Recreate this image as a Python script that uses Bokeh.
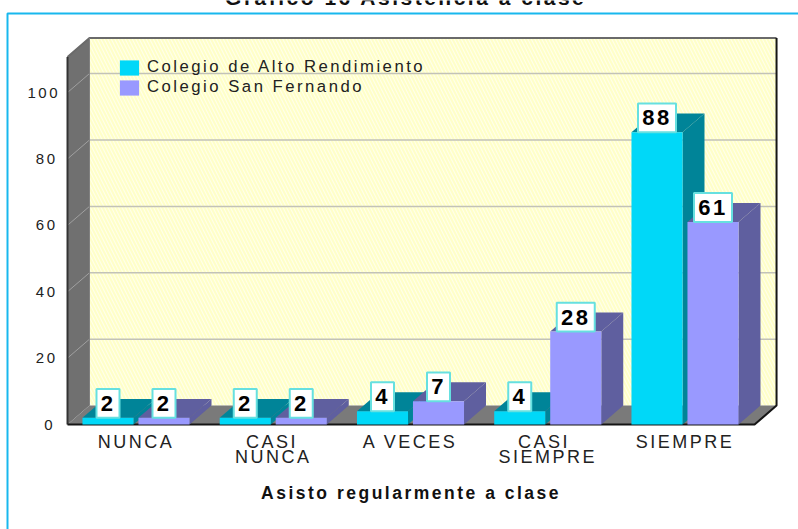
from bokeh.plotting import figure
from bokeh.models import FixedTicker, Legend, LegendItem
from bokeh.core.properties import value
from bokeh.embed import file_html
from bokeh.resources import INLINE

title_text = "Gráfico 16 Asistencia a clase"
x_title = "Asisto regularmente a clase"
categories = ["NUNCA", "CASI\nNUNCA", "A VECES", "CASI\nSIEMPRE", "SIEMPRE"]
series_names = ["Colegio de Alto Rendimiento", "Colegio San Fernando"]
alto = [2, 2, 4, 4, 88]
san_fernando = [2, 2, 7, 28, 61]
y_ticks = [0, 20, 40, 60, 80, 100]

CYAN, CYAN_D = "#00d8f8", "#008498"
PURP, PURP_D = "#9999ff", "#5f5f9f"
FONT = "Liberation Sans"
LS = 2.5  # letter spacing in px; texts are anchored as if unspaced, so centred ones get half of it back

# one category = 137.25 px, one value unit = 3.32 px; the frame fills the canvas
UX, UY = 137.25, 3.32
RX = (-135.5 / UX, (798 - 135.5) / UX)
RY = (-(529 - 424) / UY, 424 / UY)
X0, X1 = -0.499, 4.667
Y1 = 116.4
DX, DY = 0.16, 5.7
BW, GAP = 0.372, 0.036


def back(text):
    """Horizontal shift, in category units, that re-centres a letter-spaced text."""
    return max(len(line) for line in text.split("\n")) * LS / 2 / UX


p = figure(width=798, height=529, x_range=RX, y_range=RY,
           min_border=0, output_backend="svg", toolbar_location=None,
           margin=0, styles={"letter-spacing": f"{LS}px"})
p.outline_line_color = None
p.grid.visible = False

# panel border
BX, BY = (7 - 135.5) / UX, (424 - 13) / UY
p.line([BX, BX, RX[1] + 1], [RY[0] - 1, BY, BY], line_color="#18b8ee", line_width=2)

# walls and floor
p.patch([X0 + DX, X1, X1, X0 + DX], [DY, DY, Y1, Y1], fill_color="#ffffea", line_color=None,
        hatch_pattern="left_diagonal_line", hatch_color="#ffffc8", hatch_scale=7, hatch_weight=2)
p.patch([X0, X0 + DX, X0 + DX, X0], [0, DY, Y1, Y1 - DY], fill_color="#707070", line_color=None)
p.patch([X0, X1 - DX, X1, X0 + DX], [0, 0, DY, DY], fill_color="#7a7a7a", line_color=None)

# gridlines
for t in y_ticks[1:]:
    p.line([X0, X0 + DX], [t, t + DY], line_color="#a0a0a0", line_width=1)
    p.line([X0 + DX, X1], [t + DY, t + DY], line_color="#c2c2b8", line_width=1.5)

# edges
p.line([X0, X0 + DX, X1], [Y1 - DY, Y1, Y1], line_color="#6a6a6a", line_width=2)
p.line([X0 + DX, X0 + DX], [DY, Y1], line_color="#808080", line_width=1)
p.line([X0, X0], [0, Y1 - DY], line_color="#333333", line_width=2)
p.line([X0, X1 - DX, X1, X1], [0, 0, DY, Y1], line_color="#151515", line_width=2)

# bars
handles = []
for k, (vals, col, dark) in enumerate([(alto, CYAN, CYAN_D), (san_fernando, PURP, PURP_D)]):
    lefts = [i - GAP / 2 - BW if k == 0 else i + GAP / 2 for i in range(len(vals))]
    rights = [l + BW for l in lefts]
    xs_side = [[r, r + DX, r + DX, r] for r in rights]
    ys_side = [[0, DY, v + DY, v] for v in vals]
    xs_top = [[l, l + DX, r + DX, r] for l, r in zip(lefts, rights)]
    ys_top = [[v, v + DY, v + DY, v] for v in vals]
    handles.append((lefts, rights, vals, col, dark, xs_side, ys_side, xs_top, ys_top))

legend_items = []
for n in range(len(categories)):
    for k, h in enumerate(handles):
        lefts, rights, vals, col, dark, xs_side, ys_side, xs_top, ys_top = h
        p.patch(xs_side[n], ys_side[n], fill_color=dark, line_color=None)
        p.patch(xs_top[n], ys_top[n], fill_color=dark, line_color=None)
        r = p.quad(left=[lefts[n]], right=[rights[n]], bottom=[0], top=[vals[n]],
                   fill_color=col, line_color=None)
        if n == 0:
            legend_items.append(LegendItem(label=series_names[k], renderers=[r]))

# value labels
for h in handles:
    lefts, rights, vals = h[0], h[1], h[2]
    cx = [(l + r) / 2 for l, r in zip(lefts, rights)]
    p.rect(cx, [v + 4.35 for v in vals], width=[8 + 15 * len(str(v)) for v in vals], height=8.7,
           width_units="screen", fill_color="white", line_color="#66e0e0", line_width=2)
    p.text([c - back(str(v)) for c, v in zip(cx, vals)], [v + 4.35 for v in vals],
           text=[str(v) for v in vals], text_align="center",
           text_baseline="middle", text_font=value(FONT), text_font_style="bold",
           text_font_size="22px", text_color="black")

# titles
MID = (X0 + X1 - DX) / 2
p.text([MID - 5 / UX - back(title_text)], [(424 + 3) / UY], text=[title_text], text_align="center",
       text_baseline="alphabetic", text_font=value(FONT), text_font_style="bold",
       text_font_size="21px", text_color="#111111")
p.text([MID - back(x_title)], [-(492 - 424) / UY], text=[x_title], text_align="center",
       text_baseline="middle", text_font=value(FONT), text_font_style="bold",
       text_font_size="17.5px", text_color="#111111")

# axes
tick_pos = [i - back(c) for i, c in enumerate(categories)]
p.xaxis.fixed_location = 0
p.xaxis.ticker = FixedTicker(ticks=tick_pos)
p.xaxis.major_label_overrides = dict(zip(tick_pos, categories))
p.xaxis.bounds = (X0, X1 - DX)
p.xaxis.axis_line_color = None
p.xaxis.major_tick_line_color = None
p.xaxis.minor_tick_line_color = None
p.xaxis.major_label_standoff = 1
p.xaxis.major_label_text_font = FONT
p.xaxis.major_label_text_font_size = "18px"
p.xaxis.major_label_text_line_height = 0.75
p.xaxis.major_label_text_color = "#222222"

p.yaxis.fixed_location = X0
p.yaxis.ticker = FixedTicker(ticks=y_ticks)
p.yaxis.axis_line_color = None
p.yaxis.major_tick_line_color = None
p.yaxis.minor_tick_line_color = None
p.yaxis.major_label_standoff = 9
p.yaxis.major_label_text_font = FONT
p.yaxis.major_label_text_font_size = "15px"
p.yaxis.major_label_text_color = "#222222"

# legend
legend = Legend(items=legend_items, location=(117, 432), orientation="vertical",
                background_fill_alpha=0, border_line_color=None, margin=0, padding=0,
                glyph_width=24, glyph_height=19, spacing=-1, label_standoff=6,
                label_height=15, label_text_font=FONT, label_text_font_size="16.7px",
                label_text_color="#222222", click_policy="none")
p.add_layout(legend, "center")

open("out.html", "w").write(file_html(p, INLINE))
